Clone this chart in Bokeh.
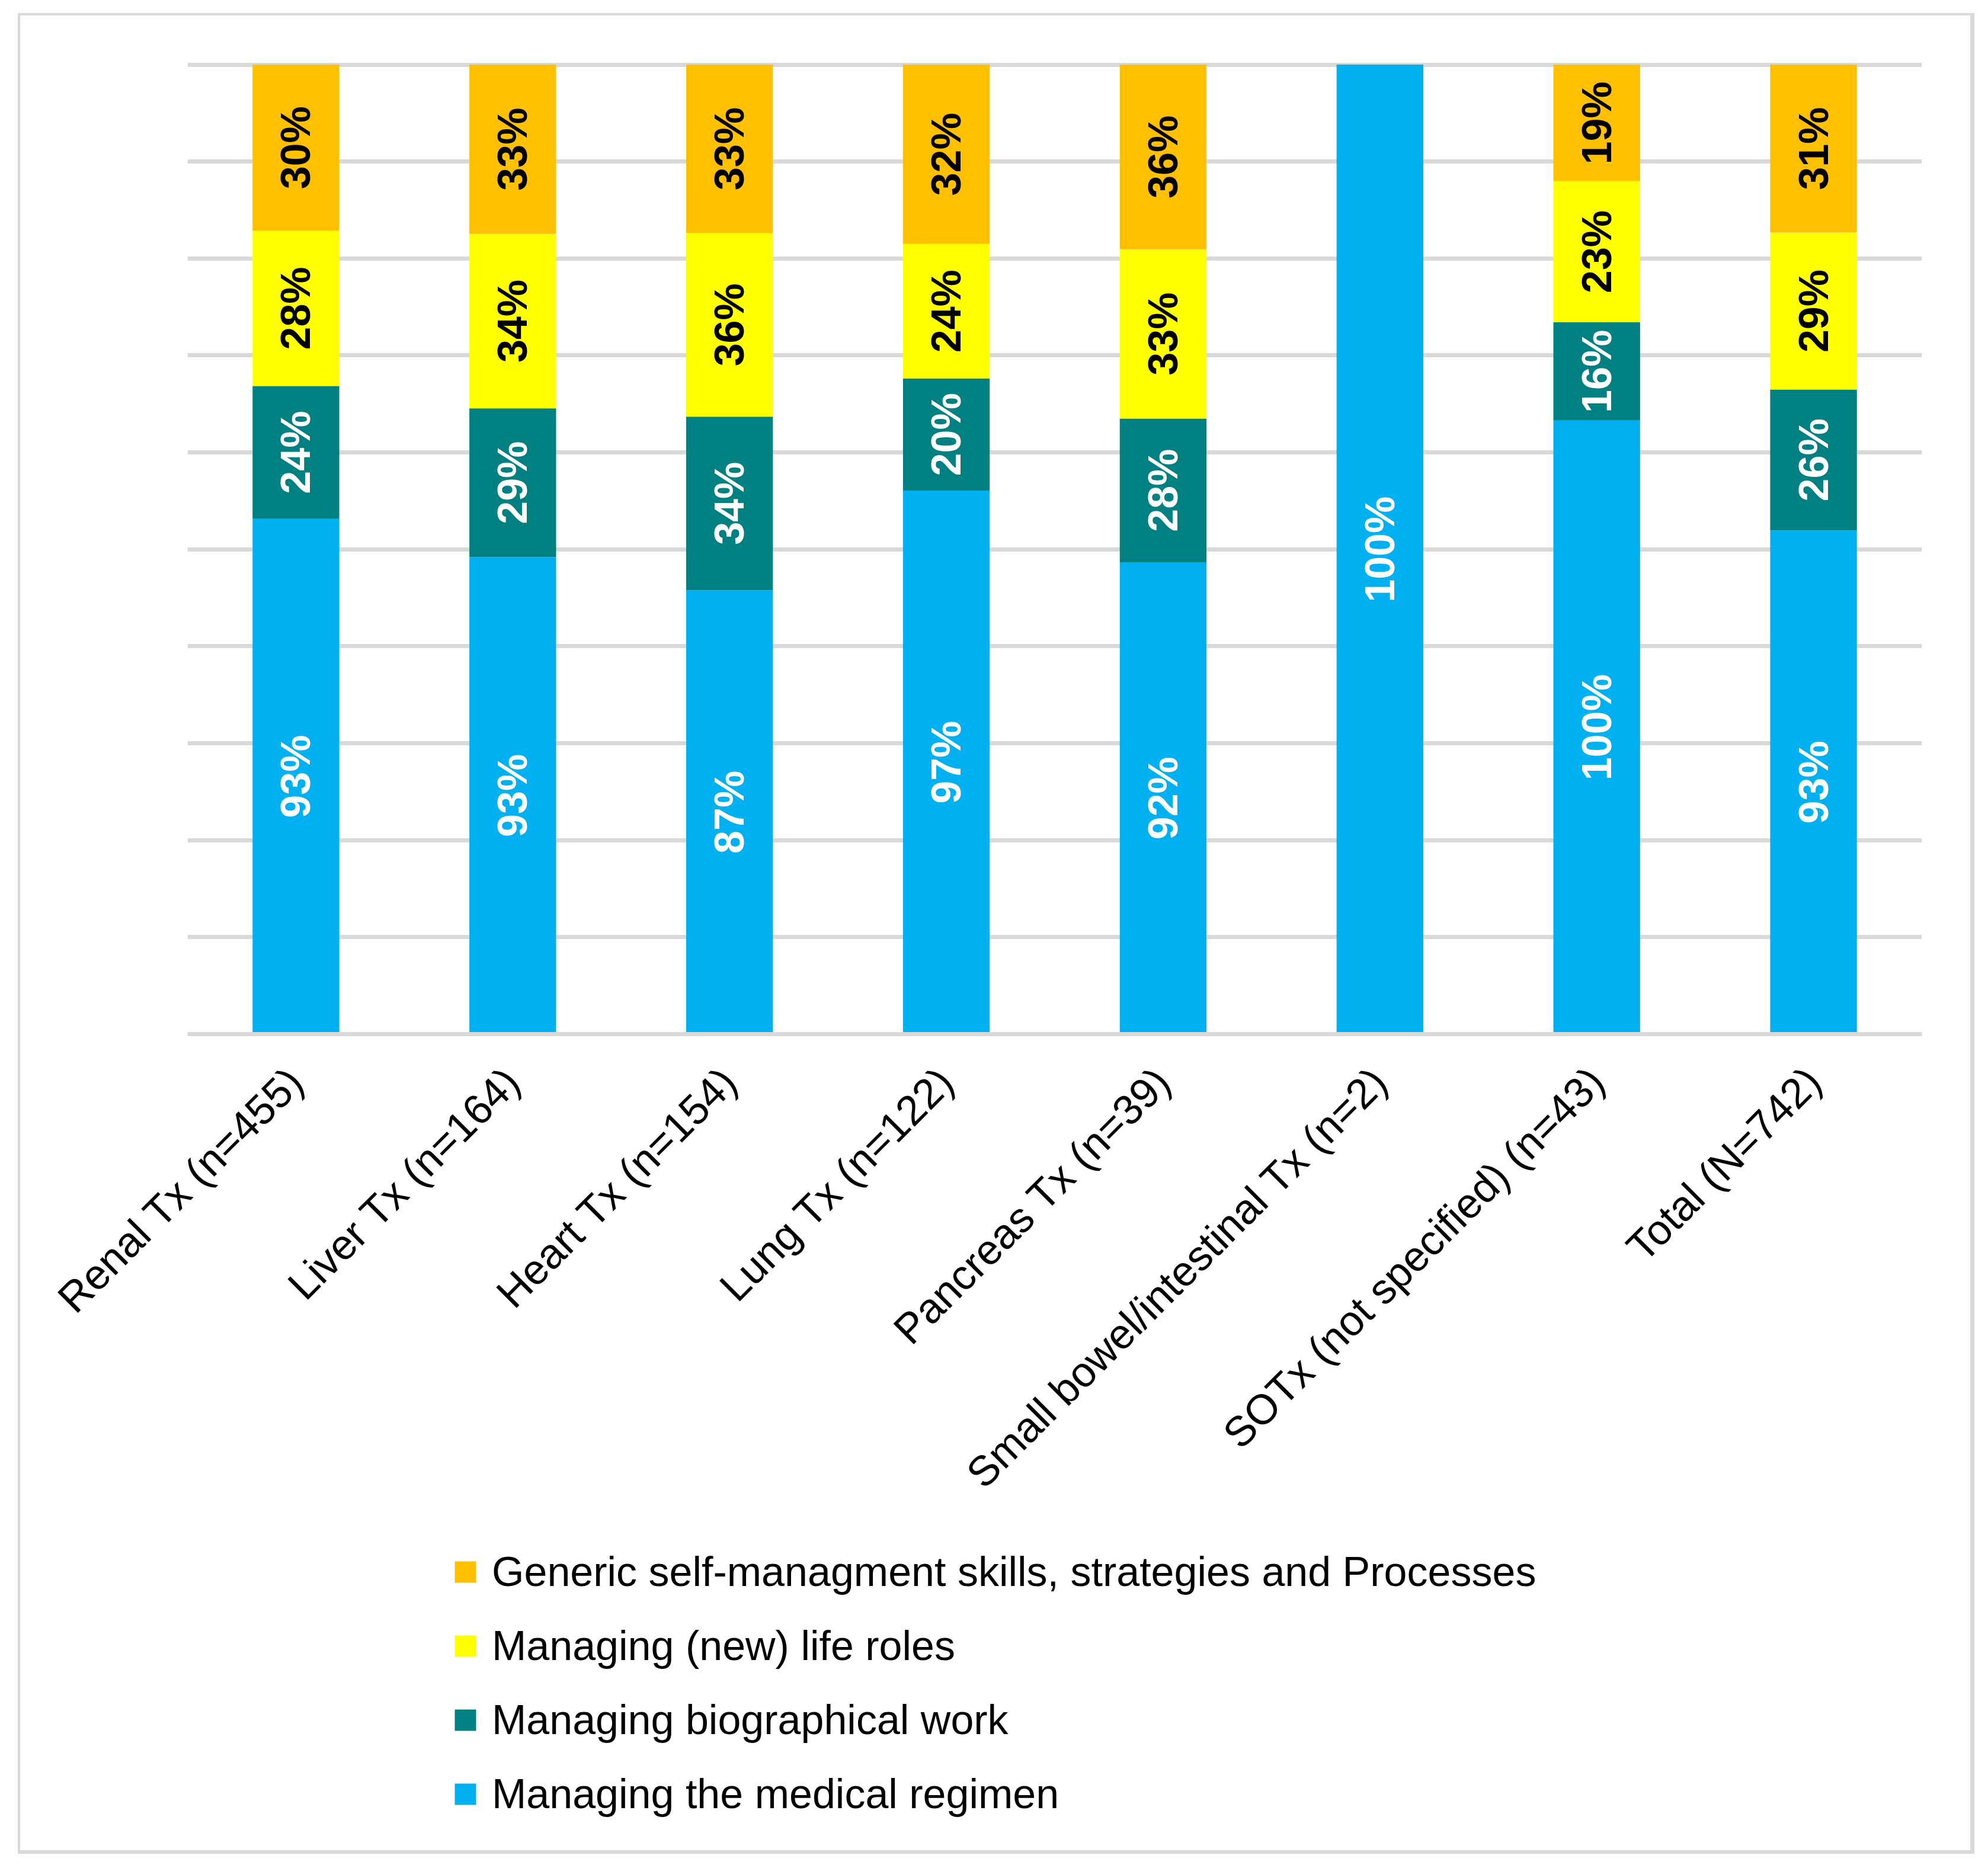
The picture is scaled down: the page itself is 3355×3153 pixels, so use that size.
import math
import numpy as np
from bokeh.plotting import figure
from bokeh.layouts import column
from bokeh.models import ColumnDataSource, Legend, LegendItem, FixedTicker, Range1d, FactorRange
from bokeh.core.properties import value
from bokeh.embed import file_html
from bokeh.resources import INLINE

# ---- data (percentages as labelled in the chart) ----
categories = [
    "Renal Tx (n=455)",
    "Liver Tx (n=164)",
    "Heart Tx (n=154)",
    "Lung Tx (n=122)",
    "Pancreas Tx (n=39)",
    "Small bowel/intestinal Tx (n=2)",
    "SOTx (not specified) (n=43)",
    "Total (N=742)",
]
medical_regimen = [93, 93, 87, 97, 92, 100, 100, 93]
biographical_work = [24, 29, 34, 20, 28, 0, 16, 26]
new_life_roles = [28, 34, 36, 24, 33, 0, 23, 29]
generic_skills = [30, 33, 33, 32, 36, 0, 19, 31]

series_names = [
    "Managing the medical regimen",
    "Managing biographical work",
    "Managing (new) life roles",
    "Generic self-managment skills, strategies and Processes",
]
series_colors = ["#00B0F0", "#008080", "#FFFF00", "#FFC000"]
label_colors = ["#FFFFFF", "#FFFFFF", "#000000", "#000000"]

FONT = "Liberation Sans"
W = 3291
H_MAIN = 2570
H_LEG = 527
LEFT = 282

vals = np.array([medical_regimen, biographical_work, new_life_roles, generic_skills], dtype=float)
shares = vals / vals.sum(axis=0)
keys = ["s0", "s1", "s2", "s3"]
data = {"cat": categories}
for k, row in zip(keys, shares):
    data[k] = row
src = ColumnDataSource(data)

# data labels centred in each segment
lx, ly, lt, lc = [], [], [], []
cum = np.zeros(len(categories))
for i in range(len(keys)):
    for j, cat in enumerate(categories):
        if vals[i, j] > 0:
            lx.append(cat)
            ly.append(cum[j] + shares[i, j] / 2)
            lt.append(f"{int(vals[i, j])}%")
            lc.append(label_colors[i])
    cum = cum + shares[i]
lsrc = ColumnDataSource(dict(x=lx, y=ly, t=lt, c=lc))

p = figure(
    x_range=FactorRange(*categories),
    y_range=Range1d(0, 1.004),
    width=W, height=H_MAIN,
    output_backend="svg", toolbar_location=None,
    y_axis_location=None,
    min_border_left=LEFT, min_border_right=82,
    min_border_top=76, min_border_bottom=851,
)
p.outline_line_color = None
p.background_fill_color = "#FFFFFF"
p.border_fill_color = "#FFFFFF"

rs = p.vbar_stack(keys, x="cat", width=0.4, source=src,
                  fill_color=series_colors, line_color=None)

p.text(x="x", y="y", text="t", text_color="c", source=lsrc,
       angle=math.pi / 2, text_align="center", text_baseline="middle",
       text_font=value(FONT), text_font_style="bold", text_font_size="70px")

p.xgrid.visible = False
p.ygrid.ticker = FixedTicker(ticks=[round(0.1 * i, 1) for i in range(11)])
p.ygrid.grid_line_color = "#D9D9D9"
p.ygrid.grid_line_width = 7

ax = p.xaxis[0]
ax.major_label_orientation = math.pi / 4
ax.major_tick_line_color = None
ax.minor_tick_line_color = None
ax.axis_line_color = "#D9D9D9"
ax.axis_line_width = 7
ax.major_label_text_font = FONT
ax.major_label_text_font_size = "71px"
ax.major_label_text_color = "#000000"
ax.major_label_standoff = 62

# ---- legend panel (own figure, below the chart) ----
q = figure(
    x_range=Range1d(0, 1), y_range=Range1d(0, 1),
    width=W, height=H_LEG,
    output_backend="svg", toolbar_location=None,
    x_axis_location=None, y_axis_location=None,
    min_border_left=LEFT, min_border_right=82, min_border_top=0, min_border_bottom=0,
)
q.outline_line_color = None
q.grid.visible = False
q.background_fill_color = "#FFFFFF"
q.border_fill_color = "#FFFFFF"

# swatch renderers for the legend (hidden in the plot area itself)
markers = []
for k, c in zip(keys, series_colors):
    r = q.scatter(x=k, y=k, source=src, marker="square", size=36,
                  fill_color=c, line_color=None)
    r.visible = False
    markers.append(r)

items = [LegendItem(label=series_names[i], renderers=[markers[i]]) for i in reversed(range(4))]
legend = Legend(
    items=items, location=(706 - LEFT, 50), orientation="vertical",
    glyph_width=90, glyph_height=90, label_height=90, label_standoff=0, spacing=35,
    padding=0, margin=0, border_line_color=None, background_fill_alpha=0,
    label_text_font=FONT, label_text_font_size="70px", label_text_color="#000000",
    inactive_fill_alpha=0,
)
q.add_layout(legend, "center")

layout = column(p, q, spacing=0)
layout.styles = {
    "position": "absolute", "left": "30px", "top": "22px",
    "box-sizing": "content-box",
    "border-style": "solid", "border-color": "#D9D9D9",
    "border-width": "4px 7px 6px 4px",
}

open("out.html", "w").write(file_html(layout, INLINE))
